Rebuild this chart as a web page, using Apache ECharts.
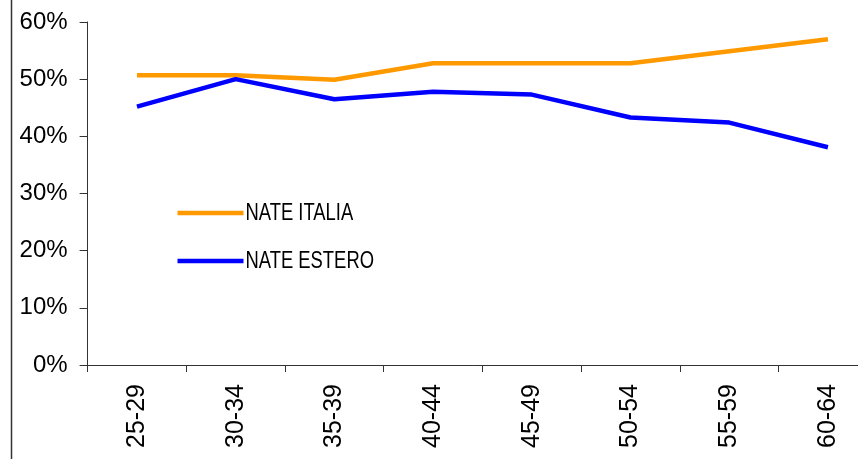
<!DOCTYPE html>
<html>
<head>
<meta charset="utf-8">
<script src="https://cdn.jsdelivr.net/npm/echarts@6/dist/echarts.min.js"></script>
<style>
  html, body { margin: 0; padding: 0; background: #fff; }
  #chart { width: 858px; height: 459px; }
</style>
</head>
<body>
<div id="chart"></div>
<script>
// Age groups along the x axis
const ageGroups = ['25-29', '30-34', '35-39', '40-44', '45-49', '50-54', '55-59', '60-64'];
// Shares (%) by place of birth
const nateItalia = [50.7, 50.7, 49.9, 52.8, 52.8, 52.8, 54.9, 57.0];
const nateEstero = [45.2, 50.0, 46.5, 47.8, 47.3, 43.3, 42.4, 38.1];
const seriesNames = ['NATE ITALIA', 'NATE ESTERO'];
const seriesColors = ['#FF9900', '#0000FF'];

const chart = echarts.init(document.getElementById('chart'), null, { renderer: 'canvas' });

const axisColor = '#333';
const labelFont = 'Liberation Sans, Arial, sans-serif';

// Legend drawn as line swatches with condensed captions
const legendItems = seriesNames.map((name, i) => ({
  type: 'group',
  left: 175,
  top: 202 + i * 48,
  children: [
    {
      type: 'line',
      shape: { x1: 0, y1: 12, x2: 66, y2: 12 },
      style: { stroke: seriesColors[i], lineWidth: 4.5 }
    },
    {
      type: 'text',
      x: 68,
      y: 1,
      scaleX: 0.8,
      style: {
        text: name,
        fontFamily: labelFont,
        fontSize: 23,
        fill: '#000'
      }
    }
  ]
}));

chart.setOption({
  animation: false,
  backgroundColor: '#fff',
  grid: {
    left: 87.6,
    top: 22,
    height: 343,
    width: 789.7,
    containLabel: false,
    outerBoundsMode: 'none'
  },
  xAxis: {
    type: 'category',
    data: ageGroups,
    boundaryGap: true,
    axisLine: { lineStyle: { color: axisColor, width: 1 } },
    axisTick: { show: true, length: 7, lineStyle: { color: axisColor } },
    axisLabel: {
      rotate: 90,
      margin: 19,
      fontFamily: labelFont,
      fontSize: 25,
      color: '#000'
    },
    splitLine: { show: false }
  },
  yAxis: {
    type: 'value',
    min: 0,
    max: 60,
    interval: 10,
    axisLine: { show: true, lineStyle: { color: axisColor, width: 1 } },
    axisTick: { show: true, length: 8, lineStyle: { color: axisColor } },
    axisLabel: {
      margin: 20,
      formatter: '{value}%',
      fontFamily: labelFont,
      fontSize: 24,
      color: '#000'
    },
    splitLine: { show: false }
  },
  graphic: [
    {
      type: 'line',
      shape: { x1: 11.5, y1: 0, x2: 11.5, y2: 459 },
      style: { stroke: '#333', lineWidth: 1.5 }
    }
  ].concat(legendItems),
  series: [
    {
      name: seriesNames[0],
      type: 'line',
      data: nateItalia,
      symbol: 'none',
      lineStyle: { color: seriesColors[0], width: 4.5 },
      itemStyle: { color: seriesColors[0] }
    },
    {
      name: seriesNames[1],
      type: 'line',
      data: nateEstero,
      symbol: 'none',
      lineStyle: { color: seriesColors[1], width: 4.5 },
      itemStyle: { color: seriesColors[1] }
    }
  ]
});
</script>
</body>
</html>
